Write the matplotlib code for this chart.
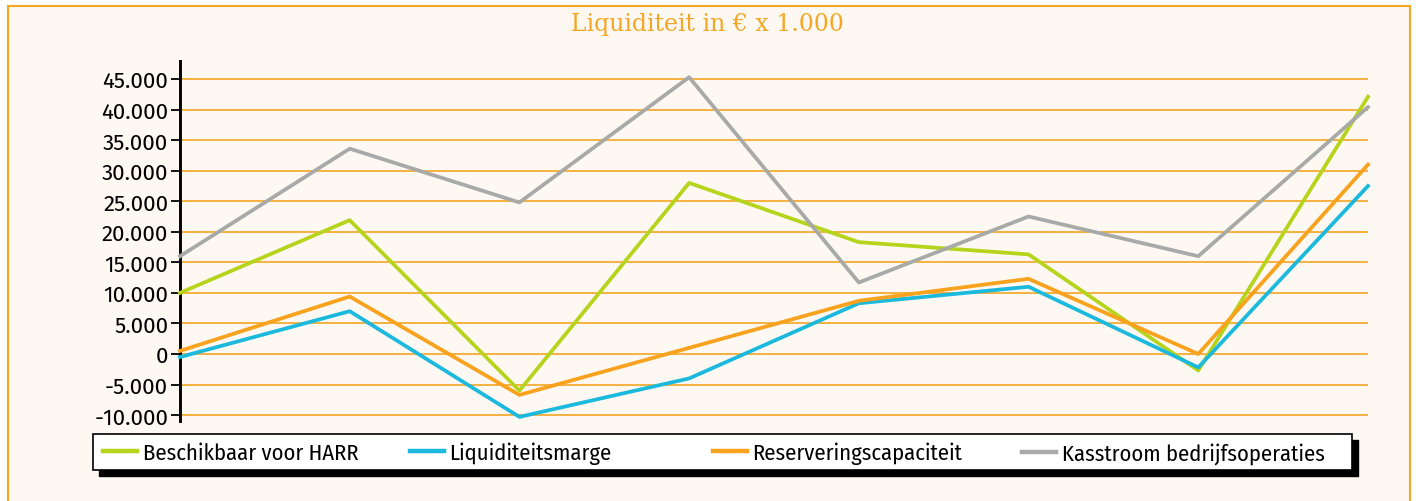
import matplotlib
matplotlib.use('Agg')
import matplotlib.pyplot as plt
from matplotlib.lines import Line2D
from matplotlib.patches import Rectangle
from matplotlib.ticker import FuncFormatter

# data (values in EUR x 1.000)
periods = list(range(8))
beschikbaar = [10000, 21900, -6000, 28000, 18300, 16300, -2700, 42100]
liquiditeitsmarge = [-500, 7000, -10300, -4000, 8300, 11000, -2200, 27500]
reservering = [500, 9400, -6700, 1000, 8700, 12300, 0, 31000]
kasstroom = [16000, 33600, 24800, 45300, 11700, 22500, 16000, 40400]

series_labels = ['Beschikbaar voor HARR', 'Liquiditeitsmarge',
                 'Reserveringscapaciteit', 'Kasstroom bedrijfsoperaties']
series_colors = ['#B6D41C', '#1BB9DD', '#F8A21D', '#A8AAA8']
y_ticks = list(range(-10000, 45001, 5000))

W, H = 1416, 502
CREAM = '#FDF8F2'
ORANGE = '#F5A623'
SANS = ['Fira Sans', 'Noto Sans', 'DejaVu Sans']
NARROW = ['Fira Sans Condensed', 'PT Sans Narrow', 'DejaVu Sans']

fig = plt.figure(figsize=(W / 100, H / 100), dpi=100, facecolor='white')

# outer panel with orange border
fig.patches.append(Rectangle((8 / W, -0.05), 1402 / W, 1.05 - 7 / H,
                             transform=fig.transFigure, facecolor=CREAM,
                             edgecolor=ORANGE, linewidth=1.5, zorder=-1))

fig.text(707 / W, 1 - 24 / H, 'Liquiditeit in € x 1.000', ha='center',
         va='center', color=ORANGE, fontsize=17, family='DejaVu Serif')

ax = fig.add_axes([180 / W, 1 - 422 / H, 1188 / W, 360 / H])
ax.set_facecolor('none')

for vals, lab, col in zip([beschikbaar, liquiditeitsmarge, reservering, kasstroom],
                          series_labels, series_colors):
    ax.plot(periods, vals, color=col, linewidth=2.7, label=lab, zorder=3,
            clip_on=False)

ax.set_xlim(0, 7)
ax.set_ylim(-10970, 47950)
ax.set_yticks(y_ticks)
ax.yaxis.set_major_formatter(FuncFormatter(lambda v, p: f'{int(v):,}'.replace(',', '.')))
ax.set_xticks([])
for yv in y_ticks:
    ax.axhline(yv, color=ORANGE, linewidth=1.2, zorder=1)

for side in ['top', 'right', 'bottom']:
    ax.spines[side].set_visible(False)
ax.spines['left'].set_linewidth(2.1)
ax.tick_params(axis='y', direction='out', length=6.5, width=1.3, pad=2,
               labelsize=16, colors='black')
for t in ax.get_yticklabels():
    t.set_family(SANS)

# legend box with black drop shadow
fig.patches.append(Rectangle((99 / W, 1 - 477 / H), 1259 / W, 36 / H,
                             transform=fig.transFigure, facecolor='black',
                             edgecolor='black', zorder=2))
fig.patches.append(Rectangle((93 / W, 1 - 471 / H), 1259 / W, 36 / H,
                             transform=fig.transFigure, facecolor='white',
                             edgecolor='black', linewidth=1.2, zorder=3))

legend_x = [103, 410, 713, 1022]
for lab, col, lx in zip(series_labels, series_colors, legend_x):
    h = Line2D([], [], color=col, linewidth=3.2)
    leg = fig.legend(handles=[h], labels=[lab], loc='center left',
                     bbox_to_anchor=(lx / W, 1 - 454 / H), frameon=False,
                     handlelength=1.5, handletextpad=0.25, borderaxespad=0,
                     borderpad=0, prop={'family': NARROW, 'size': 16.3})
    leg.set_zorder(4)

fig.savefig('out.png', dpi=100, facecolor='white')
